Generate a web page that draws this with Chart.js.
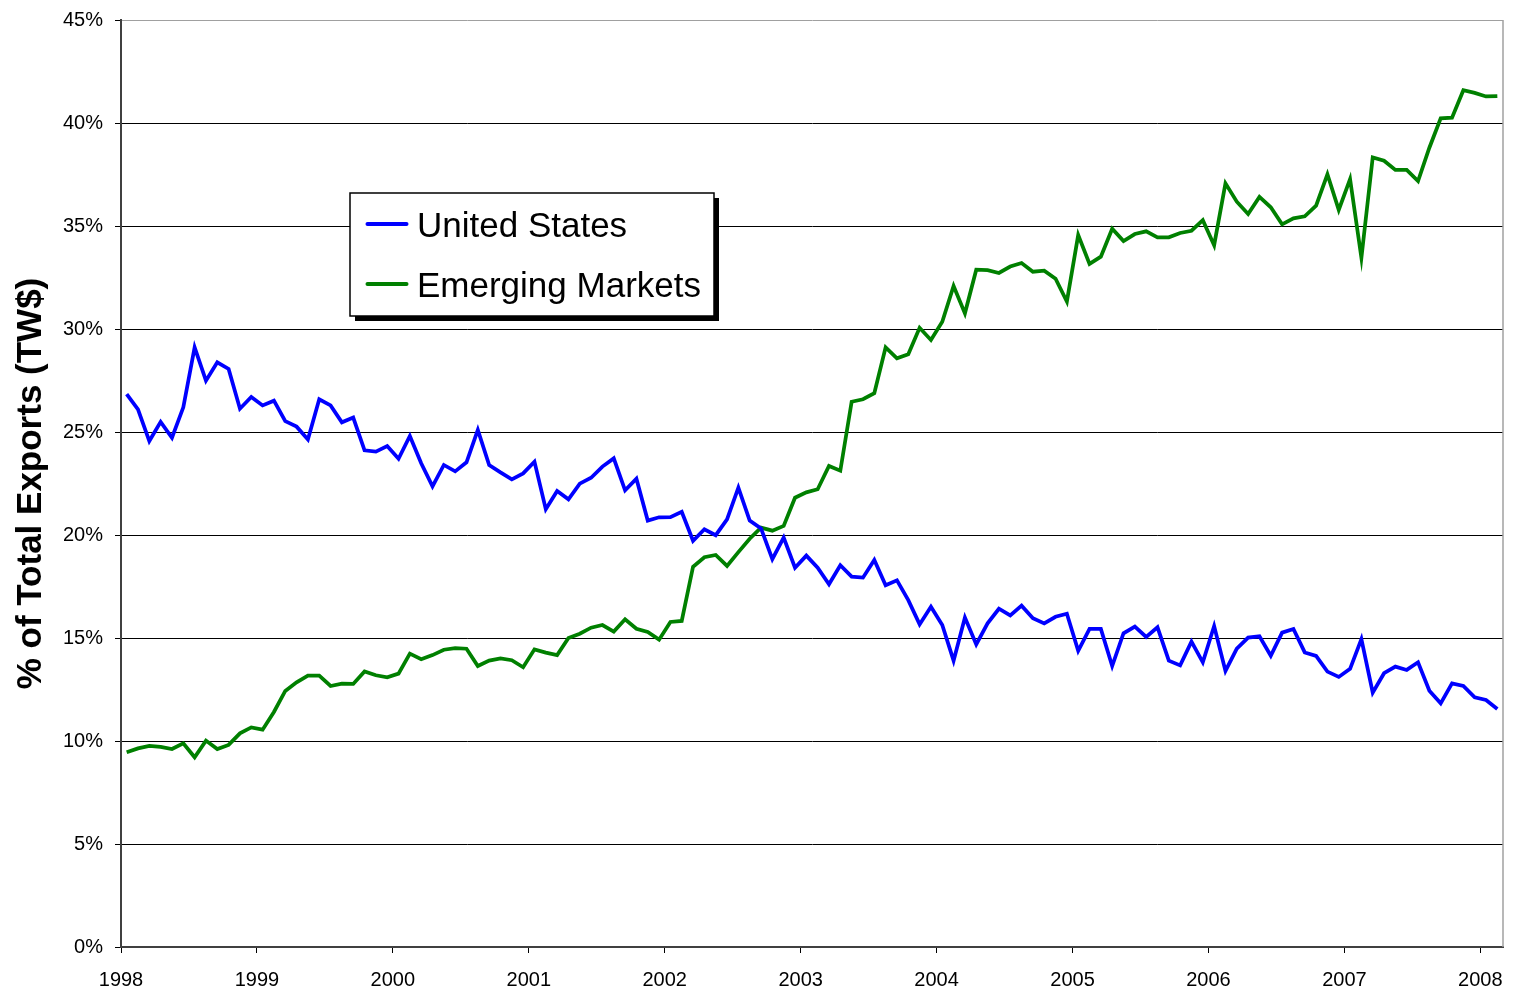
<!DOCTYPE html>
<html lang="en">
<head>
  <meta charset="UTF-8" />
  <title>Share of Total Exports</title>
  <script src="https://cdn.jsdelivr.net/npm/chart.js"></script>
  <style>
    body { margin: 0; background: #fff; }
    .wrap { width: 1530px; height: 991px; position: relative; }
  </style>
</head>
<body>
  <div class="wrap"><canvas id="chart"></canvas></div>

  <script>
    // monthly, Jan 1998 .. Feb 2008
    const startYear = 1998;
    const yearTicks = [1998, 1999, 2000, 2001, 2002, 2003, 2004, 2005, 2006, 2007, 2008];
    const seriesNames = ["United States", "Emerging Markets"];

    const usShare = [
      26.84, 26.10, 24.56, 25.49, 24.72, 26.20, 29.11, 27.49, 28.38, 28.06, 26.13, 26.70,
      26.29, 26.52, 25.53, 25.26, 24.64, 26.59, 26.29, 25.47, 25.70, 24.11, 24.05, 24.32,
      23.70, 24.81, 23.48, 22.36, 23.40, 23.09, 23.53, 25.10, 23.40, 23.04, 22.70, 22.99,
      23.56, 21.25, 22.14, 21.73, 22.49, 22.78, 23.32, 23.72, 22.17, 22.73, 20.70, 20.86,
      20.87, 21.13, 19.72, 20.28, 19.99, 20.76, 22.30, 20.70, 20.32, 18.83, 19.87, 18.41,
      19.00, 18.41, 17.61, 18.53, 17.98, 17.93, 18.79, 17.56, 17.80, 16.84, 15.66, 16.52,
      15.63, 13.90, 15.99, 14.69, 15.71, 16.42, 16.10, 16.57, 15.96, 15.71, 16.03, 16.18,
      14.38, 15.44, 15.44, 13.64, 15.23, 15.55, 15.05, 15.52, 13.90, 13.67, 14.82, 13.82,
      15.58, 13.40, 14.48, 15.02, 15.08, 14.14, 15.26, 15.44, 14.30, 14.13, 13.37, 13.11,
      13.50, 14.95, 12.35, 13.29, 13.61, 13.45, 13.82, 12.44, 11.83, 12.80, 12.67, 12.12,
      11.99, 11.55
    ];

    const emShare = [
      9.45, 9.64, 9.76, 9.71, 9.61, 9.89, 9.21, 10.02, 9.61, 9.81, 10.37, 10.66,
      10.55, 11.41, 12.43, 12.85, 13.17, 13.17, 12.67, 12.78, 12.77, 13.38, 13.19, 13.09,
      13.27, 14.24, 13.97, 14.17, 14.43, 14.51, 14.48, 13.64, 13.90, 14.01, 13.92, 13.58,
      14.45, 14.29, 14.17, 15.00, 15.21, 15.50, 15.63, 15.31, 15.91, 15.45, 15.29, 14.92,
      15.78, 15.83, 18.46, 18.92, 19.03, 18.50, 19.17, 19.82, 20.36, 20.21, 20.44, 21.81,
      22.07, 22.22, 23.35, 23.12, 26.47, 26.59, 26.88, 29.11, 28.58, 28.77, 30.06, 29.47,
      30.35, 32.09, 30.76, 32.88, 32.86, 32.72, 33.03, 33.20, 32.78, 32.83, 32.44, 31.33,
      34.56, 33.16, 33.51, 34.87, 34.27, 34.61, 34.74, 34.45, 34.45, 34.66, 34.77, 35.28,
      34.07, 37.07, 36.18, 35.58, 36.41, 35.91, 35.08, 35.37, 35.47, 35.99, 37.51, 35.78,
      37.28, 33.46, 38.33, 38.17, 37.72, 37.72, 37.18, 38.80, 40.23, 40.26, 41.59, 41.46,
      41.29, 41.31
    ];

    // month i sits in the middle of its slot
    const toPoints = vals => vals.map((v, i) => ({ x: i + 0.5, y: v }));

    Chart.defaults.font.family = "'Liberation Sans', Arial, sans-serif";
    Chart.defaults.color = "#000";

    const framePlugin = {
      id: "frame",
      beforeDatasetsDraw(chart) {
        const { ctx, chartArea: a } = chart;
        ctx.save();
        ctx.strokeStyle = "#a0a0a0";
        ctx.lineWidth = 1.5;
        ctx.beginPath();
        ctx.moveTo(a.right, a.top);
        ctx.lineTo(a.right, a.bottom);
        ctx.stroke();
        ctx.restore();
      }
    };

    // boxed legend with drop shadow, sitting inside the plot
    const boxLegend = {
      id: "boxLegend",
      afterDatasetsDraw(chart) {
        const { ctx } = chart;
        const x = 350, y = 193, w = 364, h = 123;
        ctx.save();
        ctx.fillStyle = "#000";
        ctx.fillRect(x + 5, y + 5, w, h);
        ctx.fillStyle = "#fff";
        ctx.fillRect(x, y, w, h);
        ctx.strokeStyle = "#000";
        ctx.lineWidth = 1.5;
        ctx.strokeRect(x, y, w, h);

        ctx.font = "35px 'Liberation Sans', Arial, sans-serif";
        ctx.textBaseline = "alphabetic";
        ctx.textAlign = "left";
        chart.data.datasets.forEach((ds, i) => {
          const ly = 224 + i * 60;
          ctx.strokeStyle = ds.borderColor;
          ctx.lineWidth = 4;
          ctx.lineCap = "round";
          ctx.beginPath();
          ctx.moveTo(367.5, ly);
          ctx.lineTo(406.5, ly);
          ctx.stroke();
          ctx.fillStyle = "#000";
          ctx.fillText(ds.label, 417, ly + 13);
        });
        ctx.restore();
      }
    };

    new Chart(document.getElementById("chart"), {
      type: "line",
      data: {
        datasets: [
          { label: seriesNames[0], data: toPoints(usShare), borderColor: "#0000ff", borderWidth: 3.75, pointRadius: 0, tension: 0 },
          { label: seriesNames[1], data: toPoints(emShare), borderColor: "#008000", borderWidth: 3.75, pointRadius: 0, tension: 0 }
        ]
      },
      options: {
        responsive: true,
        maintainAspectRatio: false,
        animation: false,
        layout: { padding: { left: 0, top: 20, right: 27, bottom: 0 } },
        plugins: { legend: { display: false }, tooltip: { enabled: false } },
        scales: {
          x: {
            type: "linear",
            min: 0,
            max: 122,
            afterBuildTicks: s => { s.ticks = yearTicks.map(yr => ({ value: (yr - startYear) * 12 })); },
            ticks: {
              callback: v => String(startYear + v / 12),
              autoSkip: false, maxRotation: 0, padding: 15,
              font: { size: 20 }
            },
            grid: { drawOnChartArea: false, tickColor: "#000", tickLength: 6 },
            border: { color: "#404040", width: 2 },
            afterFit: s => { s.height = 44; }
          },
          y: {
            min: 0,
            max: 45,
            ticks: { stepSize: 5, callback: v => v + "%", padding: 12, font: { size: 20 } },
            grid: {
              color: c => (c.tick && c.tick.value === 45 ? "#a0a0a0" : "#000"),
              tickColor: "#000",
              tickLength: 6,
              lineWidth: 1
            },
            border: { color: "#404040", width: 2 },
            title: {
              display: true,
              text: "% of Total Exports (TW$)",
              font: { size: 35, weight: "bold" },
              padding: { top: 10, bottom: 0 }
            },
            afterFit: s => { s.width = 121; s.paddingTop = 10; s.paddingBottom = 10; }
          }
        }
      },
      plugins: [framePlugin, boxLegend]
    });
  </script>
</body>
</html>
